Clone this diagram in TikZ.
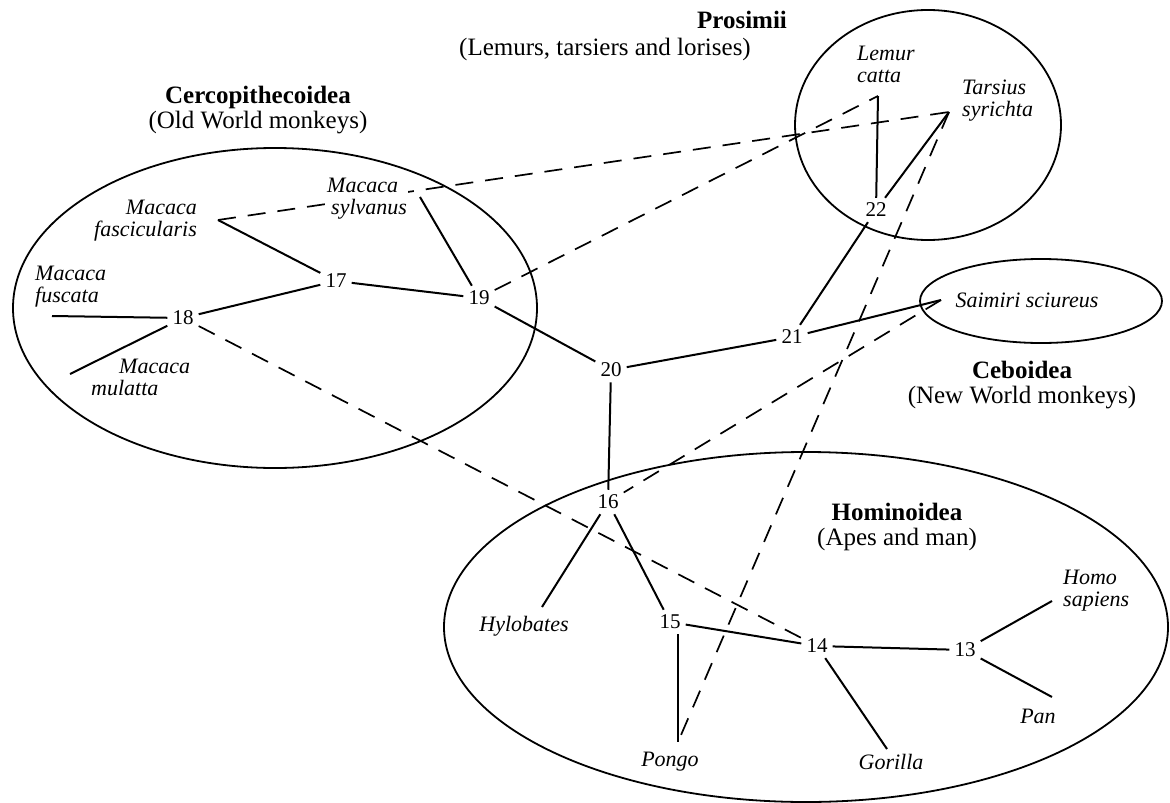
\documentclass[tikz,border=0pt]{standalone}
\usepackage{fontspec}
\setmainfont{Liberation Serif}
\usepackage{tikz}
\usetikzlibrary{backgrounds}

\tikzset{
	num/.style={font=\fontsize{21}{21}\selectfont, inner sep=5pt},
	leaf/.style={font=\fontsize{22}{22}\selectfont\itshape, inner sep=1pt},
	grp/.style={font=\fontsize{25}{25}\selectfont, align=center, inner sep=0pt},
	branch/.style={line width=2pt},
	link/.style={line width=1.7pt, dash pattern=on 18pt off 12pt},
	clade/.style={line width=1.8pt}
}

\begin{document}
\begin{tikzpicture}[x=1pt, y=-1pt]
			
			\useasboundingbox (0,0) rectangle (1170,803);
			
			% inner nodes
			\node[num] (n13) at (965,650) {13};
			\node[num] (n14) at (817,646) {14};
			\node[num] (n15) at (670,622) {15};
			\node[num] (n16) at (608,502) {16};
			\node[num] (n17) at (336,281) {17};
			\node[num] (n18) at (183,318) {18};
			\node[num] (n19) at (479,298) {19};
			\node[num] (n20) at (611,370) {20};
			\node[num] (n21) at (792,337) {21};
			\node[num] (n22) at (876,210) {22};
			
			% leaf ends
			\coordinate (homo) at (1052,601);
			\coordinate (pan) at (1052,697);
			\coordinate (gorilla) at (887,749);
			\coordinate (pongo) at (678,742);
			\coordinate (hylo) at (542,607);
			\coordinate (saimiri) at (941,300);
			\coordinate (lemur) at (878,96);
			\coordinate (tarsius) at (949,112);
			\coordinate (sylvanus) at (420,197);
			\coordinate (fasc) at (218,220);
			\coordinate (fuscata) at (52,316);
			\coordinate (mulatta) at (70,374);
			
			% leaf names
			\node[leaf, anchor=west, align=left] (homoL) at (1062,591) {Homo\\sapiens};
			\node[leaf] (panL) at (1038,716) {Pan};
			\node[leaf] (gorillaL) at (891,762) {Gorilla};
			\node[leaf] (pongoL) at (670,762) {Pongo};
			\node[leaf] (hyloL) at (524,626) {Hylobates};
			\node[leaf] (saimiriL) at (1027,300) {Saimiri sciureus};
			\node[leaf, anchor=west, align=left] (lemurL) at (856,64) {Lemur\\catta};
			\node[leaf, anchor=west, align=left] (tarsiusL) at (961,101) {Tarsius\\syrichta};
			\node[leaf, anchor=west, align=left, fill=white] (sylvanusL) at (326,199) {Macaca\\\hspace*{4pt}sylvanus};
			\node[leaf, anchor=east, align=right] (fascL) at (198,221) {Macaca\\fascicularis};
			\node[leaf, anchor=west, align=left] (fuscataL) at (34,287) {Macaca\\fuscata};
			\node[leaf, anchor=west, align=left] (mulattaL) at (90,377) {\hspace*{28pt}Macaca\\mulatta};
			
			% group names
			\node[grp] (prosT) at (742,20) {\textbf{Prosimii}};
			\node[grp] (prosS) at (605,49) {(Lemurs, tarsiers and lorises)};
			\node[grp] (cercT) at (258,110) {\textbf{Cercopithecoidea}\\(Old World monkeys)};
			\node[grp] (ceboT) at (1022,385) {\textbf{Ceboidea}\\(New World monkeys)};
			\node[grp] (homiT) at (897,527) {\textbf{Hominoidea}\\(Apes and man)};
			
			\begin{scope}[on background layer]
				\draw[clade] (275,308) ellipse [x radius=262pt, y radius=160pt];
				\draw[clade] (928,125) ellipse [x radius=133pt, y radius=115pt];
				\draw[clade] (1041,301) ellipse [x radius=121pt, y radius=42pt];
				\draw[clade] (806,627) ellipse [x radius=362pt, y radius=175pt];
				
				\draw[branch] (n13) -- (homo);
				\draw[branch] (n13) -- (pan);
				\draw[branch] (n14) -- (n13);
				\draw[branch] (n14) -- (gorilla);
				\draw[branch] (n15) -- (n14);
				\draw[branch] (pongo |- n15.south) -- (pongo);
				\draw[branch] (n16) -- (n15);
				\draw[branch] (n16) -- (hylo);
				\draw[branch] (n20) -- (n16);
				\draw[branch] (n20) -- (n21);
				\draw[branch] (n19) -- (n20);
				\draw[branch] (n21) -- (saimiri);
				\draw[branch] (n21) -- (n22);
				\draw[branch] (n22) -- (lemur);
				\draw[branch] (n22) -- (tarsius);
				\draw[branch] (n17) -- (n19);
				\draw[branch] (n19) -- (sylvanus);
				\draw[branch] (n17) -- (fasc);
				\draw[branch] (n18) -- (n17);
				\draw[branch] (n18) -- (fuscata);
				\draw[branch] (n18) -- (mulatta);
				
				%\draw[link] (n17) -- (tarsius);
				\draw[link] (fasc) -- (tarsius);
				\draw[link] (n19) -- (lemur);
				\draw[link] (n18) -- (n14);
				\draw[link] (saimiri) -- (n16);
				\draw[link] (tarsius) -- (pongo);
			\end{scope}
			
\end{tikzpicture}
\end{document}
